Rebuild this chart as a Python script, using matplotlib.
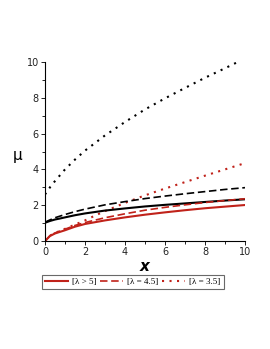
import matplotlib
matplotlib.use("Agg")
import matplotlib.pyplot as plt
from matplotlib.lines import Line2D
from matplotlib.ticker import MultipleLocator

# data
x_red_solid = [0, 0.25, 0.5, 0.72, 1, 1.5, 2, 3, 4, 5, 6, 7, 8, 9, 10]
y_red_solid = [0, 0.28, 0.42, 0.5, 0.6, 0.8, 0.95, 1.15, 1.32, 1.47, 1.6, 1.72, 1.83, 1.92, 2.01]

x_red_dash = [0, 0.25, 0.5, 1, 1.5, 2, 3, 4, 5, 6, 7, 8, 9, 10]
y_red_dash = [0, 0.3, 0.45, 0.66, 0.87, 1.03, 1.3, 1.52, 1.72, 1.88, 2.02, 2.15, 2.26, 2.36]

x_red_dot = [0, 0.25, 0.5, 1, 1.5, 2, 2.5, 3, 4, 5, 6, 7, 8, 9, 10]
y_red_dot = [0, 0.3, 0.45, 0.68, 0.92, 1.15, 1.42, 1.67, 2.13, 2.55, 2.93, 3.29, 3.65, 4.0, 4.35]

x_blk_solid = [0, 0.25, 0.5, 0.72, 1, 1.5, 2, 3, 4, 5, 6, 7, 8, 9, 10]
y_blk_solid = [1.02, 1.12, 1.2, 1.25, 1.32, 1.44, 1.54, 1.7, 1.82, 1.93, 2.02, 2.1, 2.18, 2.26, 2.33]

x_blk_dash = [0, 0.25, 0.5, 1, 1.5, 2, 3, 4, 5, 6, 7, 8, 9, 10]
y_blk_dash = [1.05, 1.18, 1.3, 1.48, 1.64, 1.78, 2.02, 2.2, 2.37, 2.51, 2.64, 2.76, 2.88, 2.98]

x_blk_dot = [0, 0.25, 0.5, 1, 1.5, 2, 2.5, 3, 3.5, 4, 4.5, 5, 6, 7, 8, 9, 9.6, 10]
y_blk_dot = [2.6, 3.0, 3.35, 4.0, 4.55, 5.05, 5.47, 5.9, 6.27, 6.65, 7.0, 7.35, 7.97, 8.55, 9.12, 9.65, 9.98, 10.2]

legend_labels = ["[λ > 5]", "[λ = 4.5]", "[λ = 3.5]"]

RED = "#c0221a"
DOT = (0, (1.0, 2.6))
DASH = (0, (4.5, 2.2))

fig = plt.figure(figsize=(2.70, 3.49), dpi=100)
ax = fig.add_axes([45/270, 1-241/349, 200/270, 179/349])

lw = 1.5
ax.plot(x_blk_dot, y_blk_dot, color="black", lw=1.5, linestyle=DOT, dash_capstyle="butt")
ax.plot(x_red_dot, y_red_dot, color=RED, lw=1.5, linestyle=DOT, dash_capstyle="butt")
ax.plot(x_blk_dash, y_blk_dash, color="black", lw=1.2, linestyle=DASH)
ax.plot(x_blk_solid, y_blk_solid, color="black", lw=lw)
ax.plot(x_red_dash, y_red_dash, color=RED, lw=1.2, linestyle=DASH)
ax.plot(x_red_solid, y_red_solid, color=RED, lw=lw)

ax.set_xlim(0, 10)
ax.set_ylim(0, 10)
ax.spines["top"].set_visible(False)
ax.spines["right"].set_visible(False)
ax.spines["left"].set_linewidth(0.8)
ax.spines["bottom"].set_linewidth(0.8)
ax.xaxis.set_major_locator(MultipleLocator(2))
ax.xaxis.set_minor_locator(MultipleLocator(1))
ax.yaxis.set_major_locator(MultipleLocator(2))
ax.yaxis.set_minor_locator(MultipleLocator(1))
ax.tick_params(which="major", length=3, width=0.7, labelsize=7, pad=1.5, colors="#222222")
ax.tick_params(which="minor", length=2, width=0.6)

ax.set_xlabel("x", fontsize=11, fontstyle="italic", fontweight="bold", labelpad=1.5)
ax.set_ylabel("μ", fontsize=11, rotation=0, va="center", ha="center")
ax.yaxis.set_label_coords(-0.135, 0.48)

handles = [Line2D([], [], color=RED, lw=lw),
           Line2D([], [], color=RED, lw=1.2, linestyle=DASH),
           Line2D([], [], color=RED, lw=1.5, linestyle=DOT, dash_capstyle="butt")]
leg = fig.legend(handles, legend_labels, ncol=3, loc="center left",
                 bbox_to_anchor=(42/270, 1-282/349), frameon=True, fancybox=False,
                 handlelength=2.5, handletextpad=0.5, columnspacing=0.4,
                 borderpad=0.35, borderaxespad=0,
                 prop={"family": "Liberation Serif", "size": 6.5})
leg.get_frame().set_edgecolor("#444444")
leg.get_frame().set_linewidth(0.8)

fig.savefig("out.png", dpi=100)
